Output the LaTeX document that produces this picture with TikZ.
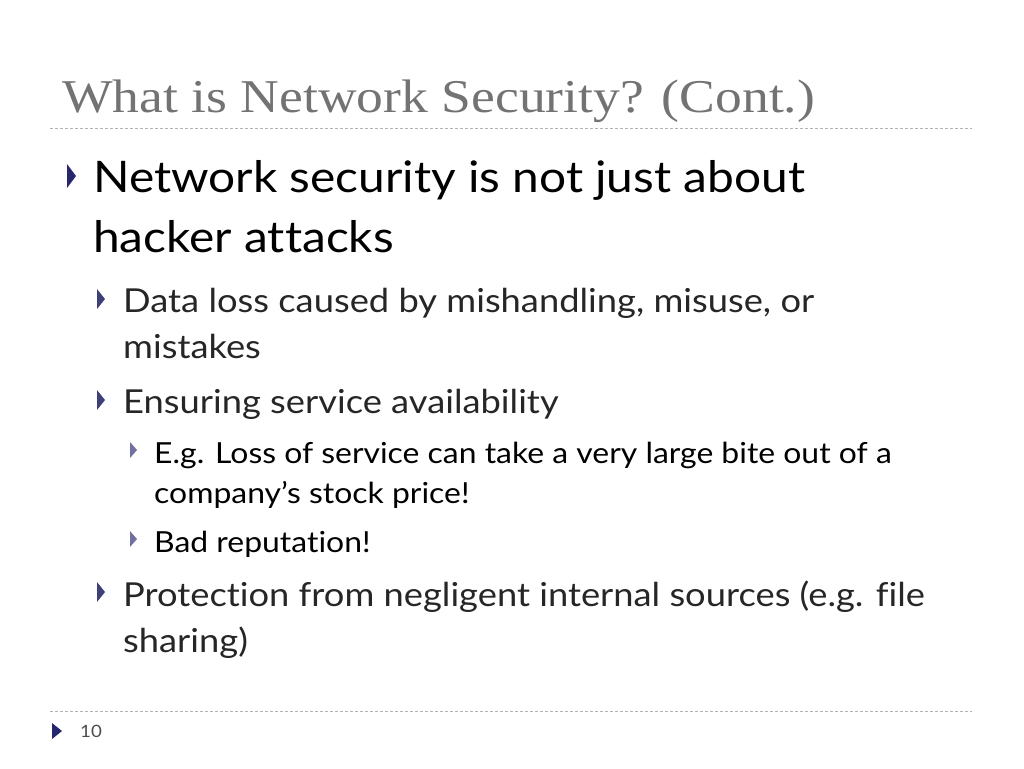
\documentclass[tikz,border=0pt]{standalone}
\usepackage{fontspec}
\setmainfont{Lato}[Ligatures=NoCommon,FakeStretch=1.1]
\newfontfamily\titlefont{Liberation Serif}[FakeStretch=1.14]
\begin{document}
\begin{tikzpicture}[x=1pt,y=-1pt,
  txt/.style={anchor=base west,inner sep=0pt,text=black},
  la/.style={txt,font=\fontsize{43.5}{43.5}\selectfont},
  lb/.style={txt,font=\fontsize{33}{33}\selectfont,text=black!85},
  lc/.style={txt,font=\fontsize{29}{29}\selectfont},
  bul/.style={fill=#1,draw=none},
  rule/.style={draw=black!30,dash pattern=on 3pt off 2pt,line width=0.8pt}]
\useasboundingbox (0,0) rectangle (1024,768);
\node[txt,font=\titlefont\fontsize{47}{47}\selectfont,text=black!55] (title) at (62,112) {What is Network Security? (Cont.)};
\coordinate (r1a) at (50,128); \coordinate (r1b) at (972,128);
\draw[rule] (r1a) -- (r1b);
\coordinate (r2a) at (50,711); \coordinate (r2b) at (972,711);
\draw[rule] (r2a) -- (r2b);
% bullets
\fill[bul=black!60!blue!70!gray] (67,164) -- (76,176) -- (67,188) -- cycle;
\foreach \y in {289,390,582}{\fill[bul=black!55!blue!50!gray] (97,\y) -- (105,\y+10) -- (97,\y+20) -- cycle;}
\foreach \y in {442,531}{\fill[bul=black!40!blue!40!gray!80] (130,\y) -- (137,\y+8) -- (130,\y+16) -- cycle;}
\fill[bul=black!60!blue!70!gray] (52,723) -- (62,731) -- (52,739) -- cycle;
\node[la] (t1) at (93,192) {Network security is not just about};
\node[la] (t2) at (93,252) {hacker attacks};
\node[lb] (t3) at (123,312) {Data loss caused by mishandling, misuse, or};
\node[lb] (t4) at (123,358) {mistakes};
\node[lb] (t5) at (123,413) {Ensuring service availability};
\node[lc] (t6) at (154,463) {E.g. Loss of service can take a very large bite out of a};
\node[lc] (t7) at (154,503) {company’s stock price!};
\node[lc] (t8) at (154,552) {Bad reputation!};
\node[lb] (t9) at (123,606) {Protection from negligent internal sources (e.g. file};
\node[lb] (t10) at (123,652) {sharing)};
\node[txt,font=\fontsize{17}{17}\selectfont,text=black!70] (num) at (80,737) {10};
\end{tikzpicture}
\end{document}
